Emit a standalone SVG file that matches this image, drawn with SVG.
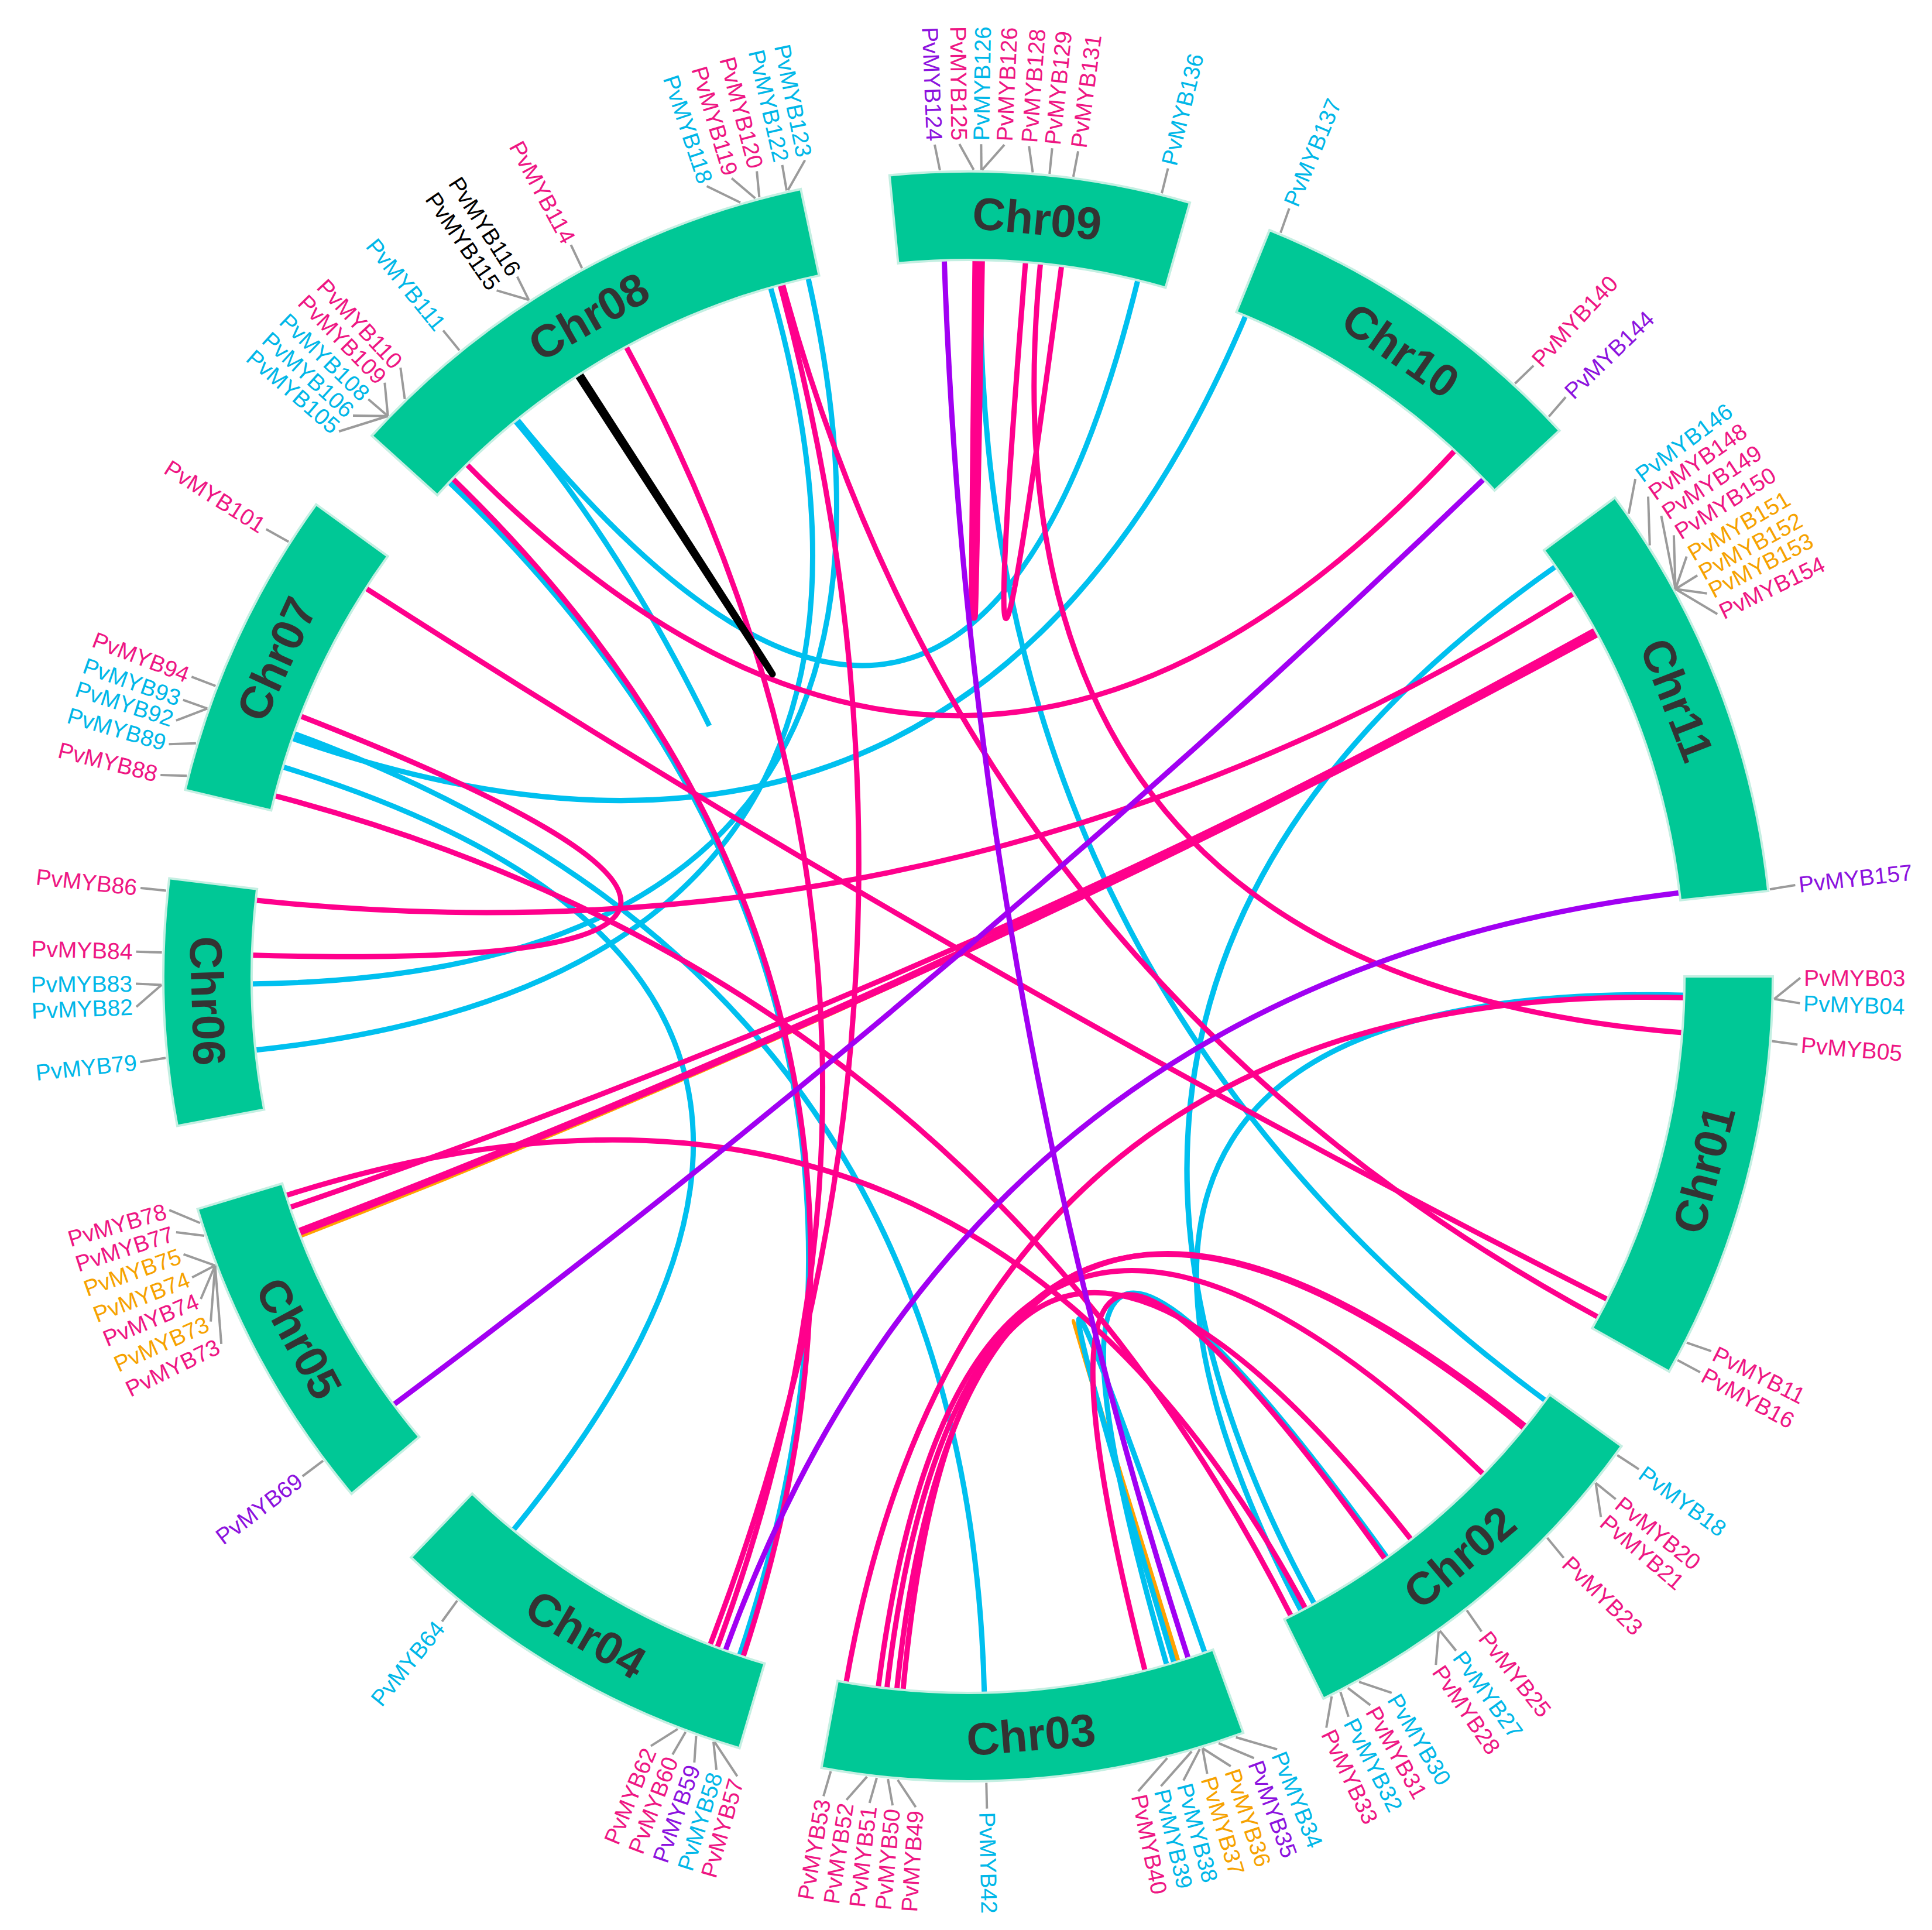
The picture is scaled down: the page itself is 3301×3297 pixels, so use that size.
<svg xmlns="http://www.w3.org/2000/svg" width="3301" height="3297" viewBox="0 0 3301 3297">
<style>
.band{fill:#00C896;stroke:#c4efe2;stroke-width:4}
.chr{font-family:"Liberation Sans",Arial,sans-serif;font-weight:bold;font-size:78px;fill:#333;text-anchor:middle;dominant-baseline:central}
.ld{fill:none;stroke:#9b9b9b;stroke-width:4}
.t{font-family:"Liberation Sans",Arial,sans-serif;font-size:39px;dominant-baseline:central}
.r{text-anchor:start}.l{text-anchor:end}
.m{fill:#EE1683}.c{fill:#00B7E8}.p{fill:#8C12DE}.o{fill:#F6A200}.k{fill:#000}
.lk{fill:none;stroke-width:9}
.lm{stroke:#FF008C}.lc{stroke:#00C0EF}.lp{stroke:#A100F2}.lo{stroke:#FFA200}.lb{stroke:#000;stroke-width:11}
</style>
<rect width="3301" height="3297" fill="#fff"/>
<g transform="translate(1654 1668)">
<g id="links">
<path class="lk lo" style="stroke-width:6" transform="rotate(163)" d="M-2.1 -1230Q0 0 2.1 -1230"/>
<path class="lk lo" transform="rotate(335)" d="M-1227.3 -81.5Q0 0 1227.3 -81.5"/>
<path class="lk lc" transform="rotate(63.65)" d="M-1092.5 -565.2Q0 0 1092.5 -565.2"/>
<path class="lk lc" transform="rotate(347.35)" d="M-546 -1102.2Q0 0 546 -1102.2"/>
<path class="lk lc" d="M-777 -953Q-594 -738 -442 -428"/>
<path class="lk lc" transform="rotate(103.1)" d="M-914 -823Q0 0 914 -823"/>
<path class="lk lc" transform="rotate(121.9)" d="M-622.4 -1060.9Q0 0 622.4 -1060.9"/>
<path class="lk lc" transform="rotate(154.05)" d="M-210.4 -1211.9Q0 0 210.4 -1211.9"/>
<path class="lk lc" transform="rotate(162)" d="M-27.9 -1229.7Q0 0 27.9 -1229.7"/>
<path class="lk lc" transform="rotate(234.25)" d="M-1014.4 -695.8Q0 0 1014.4 -695.8"/>
<path class="lk lc" transform="rotate(253.2)" d="M-684.3 -1022.3Q0 0 684.3 -1022.3"/>
<path class="lk lc" transform="rotate(256.1)" d="M-1037.4 -660.9Q0 0 1037.4 -660.9"/>
<path class="lk lc" transform="rotate(308.25)" d="M-771.7 -958Q0 0 771.7 -958"/>
<path class="lk lc" transform="rotate(304.05)" d="M-789.8 -942.9Q0 0 789.8 -942.9"/>
<path class="lk lc" transform="rotate(336.1)" d="M-895.2 -843.7Q0 0 895.2 -843.7"/>
<path class="lk lm" transform="rotate(140.75)" d="M-929 -806.2Q0 0 929 -806.2"/>
<path class="lk lm" transform="rotate(50.15)" d="M-859.9 -879.5Q0 0 859.9 -879.5"/>
<path class="lk lm" transform="rotate(29.8)" d="M-1228.3 -64.4Q0 0 1228.3 -64.4"/>
<path class="lk lm" transform="rotate(51.7)" d="M-1129.8 -486.5Q0 0 1129.8 -486.5"/>
<path class="lk lm" transform="rotate(157.3)" d="M-585.1 -1081.9Q0 0 585.1 -1081.9"/>
<path class="lk lm" transform="rotate(157.8)" d="M-590.8 -1078.9Q0 0 590.8 -1078.9"/>
<path class="lk lm" transform="rotate(160.6)" d="M-550.8 -1099.9Q0 0 550.8 -1099.9"/>
<path class="lk lm" transform="rotate(163.5)" d="M-454.9 -1142.9Q0 0 454.9 -1142.9"/>
<path class="lk lm" transform="rotate(155.05)" d="M-227.3 -1208.8Q0 0 227.3 -1208.8"/>
<path class="lk lm" transform="rotate(202.05)" d="M-944.3 -788.2Q0 0 944.3 -788.2"/>
<path class="lk lm" transform="rotate(218.9)" d="M-1121.1 -506.1Q0 0 1121.1 -506.1"/>
<path class="lk lm" transform="rotate(256.15)" d="M-1041.6 -654.6Q0 0 1041.6 -654.6"/>
<path class="lk lm" transform="rotate(266)" d="M-1119.3 -510.1Q0 0 1119.3 -510.1"/>
<path class="lk lm" transform="rotate(272.95)" d="M-1168.9 -383.3Q0 0 1168.9 -383.3"/>
<path class="lk lm" transform="rotate(336.25)" d="M-1225.4 -106.1Q0 0 1225.4 -106.1"/>
<path class="lk lm" transform="rotate(335.25)" d="M-1227.4 -80.4Q0 0 1227.4 -80.4"/>
<path class="lk lm" transform="rotate(335.15)" d="M-1226.9 -86.9Q0 0 1226.9 -86.9"/>
<path class="lk lm" transform="rotate(281.5)" d="M-209.4 -1212Q0 0 209.4 -1212"/>
<path class="lk lm" transform="rotate(346.9)" d="M-1161.7 -404.5Q0 0 1161.7 -404.5"/>
<path class="lk lm" transform="rotate(359.2)" d="M-848.3 -890.9Q0 0 848.3 -890.9"/>
<path class="lk lm" style="stroke-width:15" transform="rotate(0.85)" d="M-3.2 -1230Q0 0 3.2 -1230"/>
<path class="lk lm" transform="rotate(6.05)" d="M-31.1 -1229.6Q0 0 31.1 -1229.6"/>
<path class="lk lp" transform="rotate(80.1)" d="M-1218.1 -171.2Q0 0 1218.1 -171.2"/>
<path class="lk lp" transform="rotate(319.675)" d="M-1227.5 -77.8Q0 0 1227.5 -77.8"/>
<path class="lk lp" transform="rotate(141.55)" d="M-1045.9 -647.2Q0 0 1045.9 -647.2"/>
<path class="lk lb" transform="rotate(327.1)" d="M-2.1 -1230Q0 0 2.1 -1230"/>
</g>

<g id="chr01">
<path class="band" transform="rotate(104.7)" d="M-349 -1330A1375 1375 0 0 1 349 -1330L310.7 -1184A1224 1224 0 0 0 -310.7 -1184Z"/>
<text class="chr" transform="rotate(104.7) translate(0 -1300) rotate(180)">Chr01</text>
<path class="ld" transform="rotate(91.6)" d="M0 -1378L-37.2 -1421.5"/>
<path class="ld" transform="rotate(91.6)" d="M0 -1378L6.2 -1422"/>
<path class="ld" transform="rotate(94.6)" d="M0 -1378L2.5 -1422"/>
<path class="ld" transform="rotate(117)" d="M0 -1378L-6.2 -1422"/>
<path class="ld" transform="rotate(118.4)" d="M0 -1378L0 -1422"/>
<text class="t r m" transform="rotate(90.1) translate(0 -1428) rotate(-90)">PvMYB03</text>
<text class="t r c" transform="rotate(91.85) translate(0 -1428) rotate(-90)">PvMYB04</text>
<text class="t r m" transform="rotate(94.7) translate(0 -1428) rotate(-90)">PvMYB05</text>
<text class="t r m" transform="rotate(116.75) translate(0 -1428) rotate(-90)">PvMYB11</text>
<text class="t r m" transform="rotate(118.4) translate(0 -1428) rotate(-90)">PvMYB16</text>
</g>

<g id="chr02">
<path class="band" transform="rotate(139.75)" d="M-333.7 -1333.9A1375 1375 0 0 1 333.7 -1333.9L297.1 -1187.4A1224 1224 0 0 0 -297.1 -1187.4Z"/>
<text class="chr" transform="rotate(139.75) translate(0 -1300) rotate(180)">Chr02</text>
<path class="ld" transform="rotate(126.4)" d="M0 -1378L-2.5 -1422"/>
<path class="ld" transform="rotate(128.9)" d="M0 -1378L0 -1422"/>
<path class="ld" transform="rotate(128.9)" d="M0 -1378L39.7 -1421.4"/>
<path class="ld" transform="rotate(134.1)" d="M0 -1378L5 -1422"/>
<path class="ld" transform="rotate(141.8)" d="M0 -1378L2.5 -1422"/>
<path class="ld" transform="rotate(144.2)" d="M0 -1378L-2.5 -1422"/>
<path class="ld" transform="rotate(144.3)" d="M0 -1378L37.2 -1421.5"/>
<path class="ld" transform="rotate(151)" d="M0 -1378L-39.7 -1421.4"/>
<path class="ld" transform="rotate(151.9)" d="M0 -1378L-19.9 -1421.9"/>
<path class="ld" transform="rotate(152.5)" d="M0 -1378L7.4 -1422"/>
<path class="ld" transform="rotate(153.2)" d="M0 -1378L32.3 -1421.6"/>
<text class="t r c" transform="rotate(126.3) translate(0 -1428) rotate(-90)">PvMYB18</text>
<text class="t r m" transform="rotate(128.9) translate(0 -1428) rotate(-90)">PvMYB20</text>
<text class="t r m" transform="rotate(130.5) translate(0 -1428) rotate(-90)">PvMYB21</text>
<text class="t r m" transform="rotate(134.3) translate(0 -1428) rotate(-90)">PvMYB23</text>
<text class="t r m" transform="rotate(141.9) translate(0 -1428) rotate(-90)">PvMYB25</text>
<text class="t r c" transform="rotate(144.1) translate(0 -1428) rotate(-90)">PvMYB27</text>
<text class="t r m" transform="rotate(145.8) translate(0 -1428) rotate(-90)">PvMYB28</text>
<text class="t r c" transform="rotate(149.4) translate(0 -1428) rotate(-90)">PvMYB30</text>
<text class="t r m" transform="rotate(151.1) translate(0 -1428) rotate(-90)">PvMYB31</text>
<text class="t r c" transform="rotate(152.8) translate(0 -1428) rotate(-90)">PvMYB32</text>
<text class="t r m" transform="rotate(154.5) translate(0 -1428) rotate(-90)">PvMYB33</text>
</g>

<g id="chr03">
<path class="band" transform="rotate(175.25)" d="M-361.6 -1326.6A1375 1375 0 0 1 361.6 -1326.6L321.9 -1180.9A1224 1224 0 0 0 -321.9 -1180.9Z"/>
<text class="chr" transform="rotate(175.25) translate(0 -1300) rotate(180)">Chr03</text>
<path class="ld" transform="rotate(160.6)" d="M0 -1378L-59.6 -1420.8"/>
<path class="ld" transform="rotate(161.9)" d="M0 -1378L-49.6 -1421.1"/>
<path class="ld" transform="rotate(163.1)" d="M0 -1378L-37.2 -1421.5"/>
<path class="ld" transform="rotate(163.1)" d="M0 -1378L5 -1422"/>
<path class="ld" transform="rotate(163.3)" d="M0 -1378L42.2 -1421.4"/>
<path class="ld" transform="rotate(163.9)" d="M0 -1378L67 -1420.4"/>
<path class="ld" transform="rotate(165.7)" d="M0 -1378L62 -1420.6"/>
<path class="ld" transform="rotate(178.7)" d="M0 -1378L0 -1422"/>
<path class="ld" transform="rotate(185)" d="M0 -1378L-34.7 -1421.6"/>
<path class="ld" transform="rotate(185.7)" d="M0 -1378L-12.4 -1422"/>
<path class="ld" transform="rotate(186.5)" d="M0 -1378L7.4 -1422"/>
<path class="ld" transform="rotate(187.2)" d="M0 -1378L29.8 -1421.7"/>
<path class="ld" transform="rotate(189.8)" d="M0 -1378L5 -1422"/>
<text class="t r c" transform="rotate(158.2) translate(0 -1428) rotate(-90)">PvMYB34</text>
<text class="t r p" transform="rotate(159.9) translate(0 -1428) rotate(-90)">PvMYB35</text>
<text class="t r o" transform="rotate(161.6) translate(0 -1428) rotate(-90)">PvMYB36</text>
<text class="t r o" transform="rotate(163.3) translate(0 -1428) rotate(-90)">PvMYB37</text>
<text class="t r c" transform="rotate(165) translate(0 -1428) rotate(-90)">PvMYB38</text>
<text class="t r c" transform="rotate(166.6) translate(0 -1428) rotate(-90)">PvMYB39</text>
<text class="t r m" transform="rotate(168.2) translate(0 -1428) rotate(-90)">PvMYB40</text>
<text class="t r c" transform="rotate(178.7) translate(0 -1428) rotate(-90)">PvMYB42</text>
<text class="t l m" transform="rotate(183.6) translate(0 -1428) rotate(90)">PvMYB49</text>
<text class="t l m" transform="rotate(185.2) translate(0 -1428) rotate(90)">PvMYB50</text>
<text class="t l m" transform="rotate(186.8) translate(0 -1428) rotate(90)">PvMYB51</text>
<text class="t l m" transform="rotate(188.4) translate(0 -1428) rotate(90)">PvMYB52</text>
<text class="t l m" transform="rotate(190) translate(0 -1428) rotate(90)">PvMYB53</text>
</g>

<g id="chr04">
<path class="band" transform="rotate(210.15)" d="M-324.5 -1336.2A1375 1375 0 0 1 324.5 -1336.2L288.9 -1189.5A1224 1224 0 0 0 -288.9 -1189.5Z"/>
<text class="chr" transform="rotate(210.15) translate(0 -1300) rotate(180)">Chr04</text>
<path class="ld" transform="rotate(198.3)" d="M0 -1378L-54.6 -1421"/>
<path class="ld" transform="rotate(198.4)" d="M0 -1378L-19.9 -1421.9"/>
<path class="ld" transform="rotate(199.7)" d="M0 -1378L-12.4 -1422"/>
<path class="ld" transform="rotate(200.5)" d="M0 -1378L7.4 -1422"/>
<path class="ld" transform="rotate(201.1)" d="M0 -1378L32.3 -1421.6"/>
<path class="ld" transform="rotate(219.3)" d="M0 -1378L-2.5 -1422"/>
<text class="t l m" transform="rotate(196.1) translate(0 -1428) rotate(90)">PvMYB57</text>
<text class="t l c" transform="rotate(197.6) translate(0 -1428) rotate(90)">PvMYB58</text>
<text class="t l p" transform="rotate(199.2) translate(0 -1428) rotate(90)">PvMYB59</text>
<text class="t l m" transform="rotate(200.8) translate(0 -1428) rotate(90)">PvMYB60</text>
<text class="t l m" transform="rotate(202.4) translate(0 -1428) rotate(90)">PvMYB62</text>
<text class="t l c" transform="rotate(219.2) translate(0 -1428) rotate(90)">PvMYB64</text>
</g>

<g id="chr05">
<path class="band" transform="rotate(241.6)" d="M-276.5 -1347A1375 1375 0 0 1 276.5 -1347L246.1 -1199A1224 1224 0 0 0 -246.1 -1199Z"/>
<text class="chr" transform="rotate(241.6) translate(0 -1300) rotate(180)">Chr05</text>
<path class="ld" transform="rotate(233.1)" d="M0 -1378L0 -1422"/>
<path class="ld" transform="rotate(249)" d="M0 -1378L-128.9 -1416.1"/>
<path class="ld" transform="rotate(249)" d="M0 -1378L-86.8 -1419.3"/>
<path class="ld" transform="rotate(249)" d="M0 -1378L-44.7 -1421.3"/>
<path class="ld" transform="rotate(249)" d="M0 -1378L-5 -1422"/>
<path class="ld" transform="rotate(249)" d="M0 -1378L37.2 -1421.5"/>
<path class="ld" transform="rotate(251.25)" d="M0 -1378L21.1 -1421.8"/>
<path class="ld" transform="rotate(252.2)" d="M0 -1378L37.2 -1421.5"/>
<text class="t l p" transform="rotate(233.1) translate(0 -1428) rotate(90)">PvMYB69</text>
<text class="t l m" transform="rotate(243.8) translate(0 -1428) rotate(90)">PvMYB73</text>
<text class="t l o" transform="rotate(245.5) translate(0 -1428) rotate(90)">PvMYB73</text>
<text class="t l m" transform="rotate(247.2) translate(0 -1428) rotate(90)">PvMYB74</text>
<text class="t l o" transform="rotate(248.8) translate(0 -1428) rotate(90)">PvMYB74</text>
<text class="t l o" transform="rotate(250.5) translate(0 -1428) rotate(90)">PvMYB75</text>
<text class="t l m" transform="rotate(252.1) translate(0 -1428) rotate(90)">PvMYB77</text>
<text class="t l m" transform="rotate(253.7) translate(0 -1428) rotate(90)">PvMYB78</text>
</g>

<g id="chr06">
<path class="band" transform="rotate(268.15)" d="M-211.6 -1358.6A1375 1375 0 0 1 211.6 -1358.6L188.4 -1209.4A1224 1224 0 0 0 -188.4 -1209.4Z"/>
<text class="chr" transform="rotate(268.15) translate(0 -1300) rotate(180)">Chr06</text>
<path class="ld" transform="rotate(264.2)" d="M0 -1378L-2.5 -1422"/>
<path class="ld" transform="rotate(269.4)" d="M0 -1378L-37.2 -1421.5"/>
<path class="ld" transform="rotate(269.4)" d="M0 -1378L2.5 -1422"/>
<path class="ld" transform="rotate(271.7)" d="M0 -1378L0 -1422"/>
<path class="ld" transform="rotate(276.1)" d="M0 -1378L0 -1422"/>
<text class="t l c" transform="rotate(264.1) translate(0 -1428) rotate(90)">PvMYB79</text>
<text class="t l c" transform="rotate(267.9) translate(0 -1428) rotate(90)">PvMYB82</text>
<text class="t l c" transform="rotate(269.5) translate(0 -1428) rotate(90)">PvMYB83</text>
<text class="t l m" transform="rotate(271.7) translate(0 -1428) rotate(90)">PvMYB84</text>
<text class="t l m" transform="rotate(276.1) translate(0 -1428) rotate(90)">PvMYB86</text>
</g>

<g id="chr07">
<path class="band" transform="rotate(294.65)" d="M-268.3 -1348.6A1375 1375 0 0 1 268.3 -1348.6L238.8 -1200.5A1224 1224 0 0 0 -238.8 -1200.5Z"/>
<text class="chr" transform="rotate(294.65) translate(0 -1300)">Chr07</text>
<path class="ld" transform="rotate(284.4)" d="M0 -1378L-9.9 -1422"/>
<path class="ld" transform="rotate(286.8)" d="M0 -1378L-14.9 -1421.9"/>
<path class="ld" transform="rotate(289.4)" d="M0 -1378L-37.2 -1421.5"/>
<path class="ld" transform="rotate(289.4)" d="M0 -1378L0 -1422"/>
<path class="ld" transform="rotate(291.1)" d="M0 -1378L0 -1422"/>
<path class="ld" transform="rotate(302.6)" d="M0 -1378L-2.5 -1422"/>
<text class="t l m" transform="rotate(284) translate(0 -1428) rotate(90)">PvMYB88</text>
<text class="t l c" transform="rotate(286.2) translate(0 -1428) rotate(90)">PvMYB89</text>
<text class="t l c" transform="rotate(287.9) translate(0 -1428) rotate(90)">PvMYB92</text>
<text class="t l c" transform="rotate(289.4) translate(0 -1428) rotate(90)">PvMYB93</text>
<text class="t l m" transform="rotate(291.1) translate(0 -1428) rotate(90)">PvMYB94</text>
<text class="t l m" transform="rotate(302.5) translate(0 -1428) rotate(90)">PvMYB101</text>
</g>

<g id="chr08">
<path class="band" transform="rotate(330.1)" d="M-422.7 -1308.5A1375 1375 0 0 1 422.7 -1308.5L376.3 -1164.8A1224 1224 0 0 0 -376.3 -1164.8Z"/>
<text class="chr" transform="rotate(330.1) translate(0 -1300)">Chr08</text>
<path class="ld" transform="rotate(314)" d="M0 -1378L-76.9 -1419.9"/>
<path class="ld" transform="rotate(314)" d="M0 -1378L-41 -1421.4"/>
<path class="ld" transform="rotate(314)" d="M0 -1378L-2.5 -1422"/>
<path class="ld" transform="rotate(314)" d="M0 -1378L37.2 -1421.5"/>
<path class="ld" transform="rotate(315.7)" d="M0 -1378L32.3 -1421.6"/>
<path class="ld" transform="rotate(320.9)" d="M0 -1378L0 -1422"/>
<path class="ld" transform="rotate(331.4)" d="M0 -1378L2.5 -1422"/>
<path class="ld" transform="rotate(327)" d="M0 -1378L-37.2 -1421.5"/>
<path class="ld" transform="rotate(327)" d="M0 -1378L5 -1422"/>
<path class="ld" transform="rotate(343.6)" d="M0 -1378L-47.1 -1421.2"/>
<path class="ld" transform="rotate(344.7)" d="M0 -1378L-29.8 -1421.7"/>
<path class="ld" transform="rotate(345)" d="M0 -1378L7.4 -1422"/>
<path class="ld" transform="rotate(347)" d="M0 -1378L2.5 -1422"/>
<path class="ld" transform="rotate(347.1)" d="M0 -1378L39.7 -1421.4"/>
<text class="t l c" transform="rotate(310.9) translate(0 -1428) rotate(90)">PvMYB105</text>
<text class="t l c" transform="rotate(312.35) translate(0 -1428) rotate(90)">PvMYB106</text>
<text class="t l c" transform="rotate(313.9) translate(0 -1428) rotate(90)">PvMYB108</text>
<text class="t l m" transform="rotate(315.5) translate(0 -1428) rotate(90)">PvMYB109</text>
<text class="t l m" transform="rotate(317) translate(0 -1428) rotate(90)">PvMYB110</text>
<text class="t l c" transform="rotate(320.9) translate(0 -1428) rotate(90)">PvMYB111</text>
<text class="t l k" transform="rotate(325.5) translate(0 -1428) rotate(90)">PvMYB115</text>
<text class="t l k" transform="rotate(327.2) translate(0 -1428) rotate(90)">PvMYB116</text>
<text class="t l m" transform="rotate(331.5) translate(0 -1428) rotate(90)">PvMYB114</text>
<text class="t l c" transform="rotate(341.7) translate(0 -1428) rotate(90)">PvMYB118</text>
<text class="t l m" transform="rotate(343.5) translate(0 -1428) rotate(90)">PvMYB119</text>
<text class="t l m" transform="rotate(345.3) translate(0 -1428) rotate(90)">PvMYB120</text>
<text class="t l c" transform="rotate(347.1) translate(0 -1428) rotate(90)">PvMYB122</text>
<text class="t l c" transform="rotate(348.7) translate(0 -1428) rotate(90)">PvMYB123</text>
</g>

<g id="chr09">
<path class="band" transform="rotate(5.2)" d="M-257.7 -1350.7A1375 1375 0 0 1 257.7 -1350.7L229.4 -1202.3A1224 1224 0 0 0 -229.4 -1202.3Z"/>
<text class="chr" transform="rotate(5.2) translate(0 -1300)">Chr09</text>
<path class="ld" transform="rotate(358)" d="M0 -1378L-7.4 -1422"/>
<path class="ld" transform="rotate(0.4)" d="M0 -1378L-24.8 -1421.8"/>
<path class="ld" transform="rotate(0.95)" d="M0 -1378L-1.2 -1422"/>
<path class="ld" transform="rotate(1)" d="M0 -1378L37.2 -1421.5"/>
<path class="ld" transform="rotate(4.6)" d="M0 -1378L-9.9 -1422"/>
<path class="ld" transform="rotate(5.8)" d="M0 -1378L0 -1422"/>
<path class="ld" transform="rotate(7.5)" d="M0 -1378L2.5 -1422"/>
<path class="ld" transform="rotate(13.9)" d="M0 -1378L0 -1422"/>
<text class="t l p" transform="rotate(357.7) translate(0 -1428) rotate(90)">PvMYB124</text>
<text class="t l m" transform="rotate(359.4) translate(0 -1428) rotate(90)">PvMYB125</text>
<text class="t r c" transform="rotate(0.9) translate(0 -1428) rotate(-90)">PvMYB126</text>
<text class="t r m" transform="rotate(2.5) translate(0 -1428) rotate(-90)">PvMYB126</text>
<text class="t r m" transform="rotate(4.2) translate(0 -1428) rotate(-90)">PvMYB128</text>
<text class="t r m" transform="rotate(5.8) translate(0 -1428) rotate(-90)">PvMYB129</text>
<text class="t r m" transform="rotate(7.6) translate(0 -1428) rotate(-90)">PvMYB131</text>
<text class="t r c" transform="rotate(13.9) translate(0 -1428) rotate(-90)">PvMYB136</text>
</g>

<g id="chr10">
<path class="band" transform="rotate(34.65)" d="M-301.1 -1341.6A1375 1375 0 0 1 301.1 -1341.6L268.1 -1194.3A1224 1224 0 0 0 -268.1 -1194.3Z"/>
<text class="chr" transform="rotate(34.65) translate(0 -1300)">Chr10</text>
<path class="ld" transform="rotate(22.8)" d="M0 -1378L-2.5 -1422"/>
<path class="ld" transform="rotate(42.7)" d="M0 -1378L2.5 -1422"/>
<path class="ld" transform="rotate(46.06)" d="M0 -1378L-4 -1422"/>
<text class="t r c" transform="rotate(22.7) translate(0 -1428) rotate(-90)">PvMYB137</text>
<text class="t r m" transform="rotate(42.8) translate(0 -1428) rotate(-90)">PvMYB140</text>
<text class="t r p" transform="rotate(45.9) translate(0 -1428) rotate(-90)">PvMYB144</text>
</g>

<g id="chr11">
<path class="band" transform="rotate(68.7)" d="M-360.5 -1326.9A1375 1375 0 0 1 360.5 -1326.9L320.9 -1181.2A1224 1224 0 0 0 -320.9 -1181.2Z"/>
<text class="chr" transform="rotate(68.7) translate(0 -1300)">Chr11</text>
<path class="ld" transform="rotate(55)" d="M0 -1378L-42.2 -1421.4"/>
<path class="ld" transform="rotate(57.7)" d="M0 -1378L-71.9 -1420.2"/>
<path class="ld" transform="rotate(61.3)" d="M0 -1378L-121.5 -1416.8"/>
<path class="ld" transform="rotate(61.3)" d="M0 -1378L-81.9 -1419.6"/>
<path class="ld" transform="rotate(61.3)" d="M0 -1378L-39.7 -1421.4"/>
<path class="ld" transform="rotate(61.3)" d="M0 -1378L-2.5 -1422"/>
<path class="ld" transform="rotate(61.3)" d="M0 -1378L32.3 -1421.6"/>
<path class="ld" transform="rotate(61.3)" d="M0 -1378L71.9 -1420.2"/>
<path class="ld" transform="rotate(83.8)" d="M0 -1378L-2.5 -1422"/>
<text class="t r c" transform="rotate(53.3) translate(0 -1428) rotate(-90)">PvMYB146</text>
<text class="t r m" transform="rotate(54.8) translate(0 -1428) rotate(-90)">PvMYB148</text>
<text class="t r m" transform="rotate(56.4) translate(0 -1428) rotate(-90)">PvMYB149</text>
<text class="t r m" transform="rotate(58) translate(0 -1428) rotate(-90)">PvMYB150</text>
<text class="t r o" transform="rotate(59.7) translate(0 -1428) rotate(-90)">PvMYB151</text>
<text class="t r o" transform="rotate(61.2) translate(0 -1428) rotate(-90)">PvMYB152</text>
<text class="t r o" transform="rotate(62.6) translate(0 -1428) rotate(-90)">PvMYB153</text>
<text class="t r m" transform="rotate(64.2) translate(0 -1428) rotate(-90)">PvMYB154</text>
<text class="t r p" transform="rotate(83.7) translate(0 -1428) rotate(-90)">PvMYB157</text>
</g>
</g>
</svg>
